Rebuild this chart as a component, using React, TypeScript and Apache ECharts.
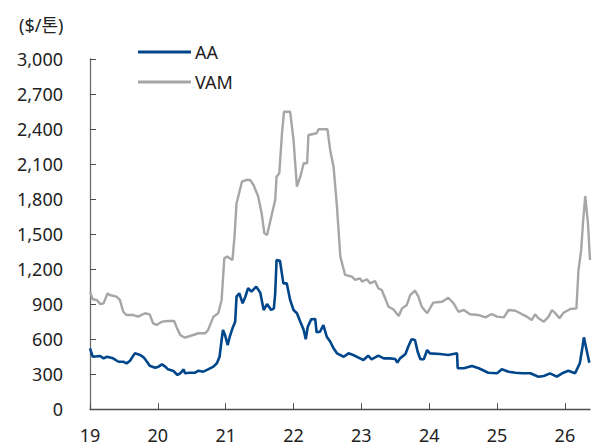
import React, { useEffect, useRef } from "react";
import * as echarts from "echarts";

const yearTicks = [19, 20, 21, 22, 23, 24, 25, 26];
const yTicksMax = 3000;
const yInterval = 300;

const aaX = [19.00,19.04,19.15,19.20,19.25,19.34,19.42,19.49,19.54,19.59,19.66,19.74,19.79,19.84,19.88,19.96,20.01,20.06,20.11,20.15,20.23,20.29,20.33,20.38,20.40,20.47,20.55,20.60,20.67,20.74,20.82,20.87,20.91,20.94,20.96,20.99,21.03,21.06,21.10,21.14,21.16,21.20,21.25,21.29,21.33,21.38,21.45,21.51,21.56,21.61,21.67,21.71,21.73,21.75,21.80,21.85,21.90,21.95,22.00,22.05,22.10,22.15,22.18,22.21,22.26,22.32,22.34,22.39,22.44,22.49,22.54,22.59,22.64,22.74,22.81,22.88,22.98,23.03,23.10,23.15,23.25,23.33,23.42,23.50,23.53,23.57,23.65,23.69,23.74,23.79,23.83,23.87,23.92,23.97,24.01,24.16,24.28,24.41,24.42,24.51,24.63,24.73,24.87,25.00,25.07,25.17,25.27,25.37,25.49,25.61,25.69,25.78,25.88,25.96,26.05,26.15,26.22,26.26,26.28,26.32,26.36];
const aaY = [522,450,456,436,450,436,407,407,393,416,479,465,445,407,373,356,365,385,365,342,328,294,308,342,308,313,313,330,322,342,365,394,450,593,679,636,550,621,693,750,964,993,907,964,1036,1007,1050,998,850,901,850,864,993,1278,1272,1078,1078,936,850,822,750,679,599,707,770,773,659,664,721,621,580,522,479,450,479,465,436,422,459,428,459,436,436,430,399,436,473,536,599,593,493,428,428,508,479,473,465,479,351,351,371,351,313,308,342,322,313,308,308,279,285,308,279,308,330,308,394,536,616,508,399];

const vamX = [19.00,19.04,19.10,19.15,19.20,19.26,19.29,19.39,19.44,19.49,19.54,19.64,19.71,19.81,19.88,19.93,19.98,20.06,20.15,20.24,20.28,20.33,20.40,20.52,20.60,20.70,20.74,20.82,20.89,20.94,20.98,21.02,21.10,21.13,21.16,21.24,21.31,21.36,21.41,21.48,21.53,21.57,21.61,21.65,21.73,21.75,21.79,21.83,21.86,21.95,22.00,22.05,22.10,22.15,22.20,22.22,22.34,22.37,22.50,22.54,22.59,22.64,22.69,22.76,22.86,22.91,22.98,23.01,23.08,23.13,23.20,23.25,23.30,23.35,23.40,23.47,23.55,23.60,23.67,23.72,23.79,23.84,23.89,23.97,24.06,24.19,24.28,24.36,24.43,24.51,24.60,24.73,24.83,24.92,25.00,25.10,25.17,25.27,25.37,25.44,25.51,25.56,25.61,25.69,25.76,25.81,25.86,25.92,25.98,26.08,26.17,26.20,26.24,26.27,26.30,26.34,26.37];
const vamY = [1007,942,936,901,907,993,978,964,936,835,807,807,793,822,813,736,722,750,756,756,699,636,613,636,651,651,679,793,822,936,1293,1307,1278,1478,1763,1948,1963,1963,1920,1820,1678,1507,1492,1592,1792,1991,2020,2363,2547,2547,2305,1905,1991,2106,2106,2348,2363,2397,2397,2220,2077,1734,1307,1150,1135,1107,1121,1092,1113,1078,1098,1036,1021,950,878,856,799,864,893,978,1015,964,878,822,913,921,955,907,835,850,813,807,787,816,793,787,850,844,813,793,764,813,779,750,793,850,822,779,827,859,864,1192,1364,1620,1824,1592,1278];

const FONT = "'Noto Sans', 'Noto Sans CJK KR', sans-serif";

export default function App() {
  const ref = useRef<HTMLDivElement>(null);
  useEffect(() => {
    if (!ref.current) return;
    const chart = echarts.init(ref.current, null, { renderer: "svg" });
    const aaData = aaX.map((x, i) => [x, aaY[i]]);
    const vamData = vamX.map((x, i) => [x, vamY[i]]);
    chart.setOption({
      animation: false,
      backgroundColor: "#ffffff",
      textStyle: { fontFamily: FONT },
      grid: { left: 90, right: 19, top: 58.8, bottom: 36.7 },
      legend: {
        orient: "vertical",
        left: 138,
        top: 43,
        padding: 0,
        icon: "rect",
        itemWidth: 53,
        itemHeight: 3,
        itemGap: 12,
        textStyle: { fontFamily: FONT, fontSize: 18, color: "#222", padding: [0, 0, 0, -1], lineHeight: 18 },
        data: ["AA", "VAM"],
      },
      graphic: [
        {
          type: "text",
          left: 19,
          top: 16,
          style: { text: "($/톤)", font: `18px ${FONT}`, fill: "#222" },
        },
      ],
      xAxis: {
        type: "value",
        min: 19,
        max: 26.37,
        interval: 1,
        splitLine: { show: false },
        axisLine: { lineStyle: { color: "#4d4d4d", width: 1.3 } },
        axisTick: { inside: true, length: 6, customValues: yearTicks, lineStyle: { color: "#4d4d4d" } },
        axisLabel: {
          customValues: yearTicks,
          margin: 17,
          fontSize: 18,
          color: "#222",
          fontFamily: FONT,
          formatter: (v: number) => String(v),
        },
      },
      yAxis: {
        type: "value",
        min: 0,
        max: yTicksMax,
        interval: yInterval,
        splitLine: { show: false },
        axisLine: { show: true, lineStyle: { color: "#6e6e6e", width: 1.3 } },
        axisTick: { show: true, inside: true, length: 6, lineStyle: { color: "#4d4d4d" } },
        axisLabel: {
          margin: 27,
          fontSize: 18,
          color: "#222",
          fontFamily: FONT,
          formatter: (v: number) => v.toLocaleString("en-US"),
        },
      },
      series: [
        {
          name: "AA",
          type: "line",
          data: aaData,
          showSymbol: false,
          symbol: "none",
          lineStyle: { color: "#00468b", width: 2.6 },
          itemStyle: { color: "#00468b" },
          z: 3,
        },
        {
          name: "VAM",
          type: "line",
          data: vamData,
          showSymbol: false,
          symbol: "none",
          lineStyle: { color: "#a6a6a6", width: 2.4 },
          itemStyle: { color: "#a6a6a6" },
          z: 2,
        },
      ],
    });
    return () => chart.dispose();
  }, []);
  return <div ref={ref} style={{ width: 609, height: 446, position: "absolute", left: 0, top: 0 }} />;
}
